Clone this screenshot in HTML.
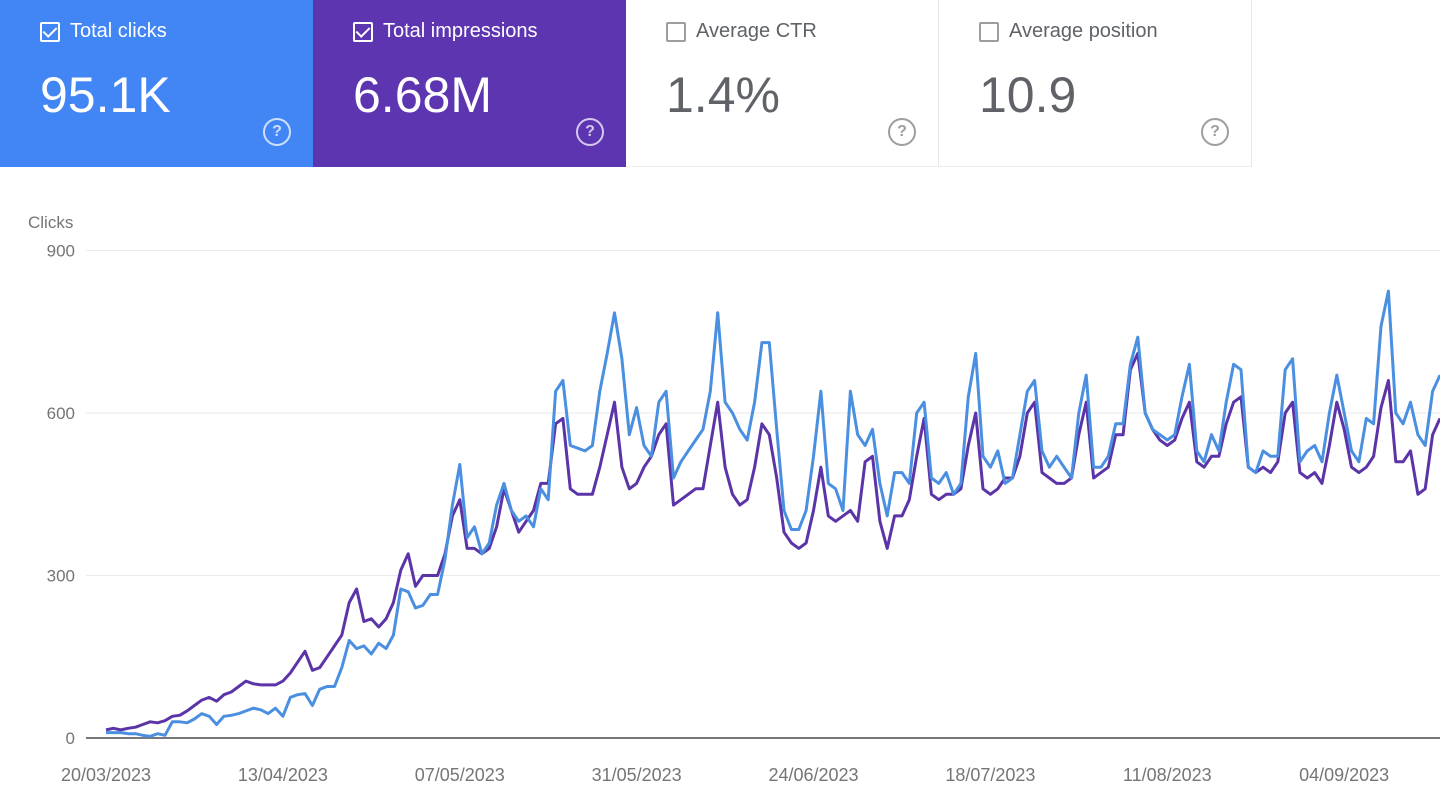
<!DOCTYPE html>
<html><head><meta charset="utf-8">
<style>
body{margin:0;width:1440px;height:810px;overflow:hidden;background:#fff;font-family:"Liberation Sans",sans-serif;}
.card{position:absolute;top:0;height:167px;width:313px;box-sizing:border-box;}
.card .lab{position:absolute;left:40px;top:20px;font-size:20px;display:flex;align-items:center;gap:10px;}
.cb{width:20px;height:20px;box-sizing:border-box;border:2px solid #9e9e9e;border-radius:2px;display:inline-block;position:relative;}
.card .val{position:absolute;left:40px;top:66px;font-size:50px;}
.help{position:absolute;right:22px;top:118px;width:24px;height:24px;border:2px solid;border-radius:50%;font-size:16px;text-align:center;line-height:24px;font-weight:bold;}
</style></head><body>
<div class="card" style="left:0;background:#4285f4;color:#fff">
 <div class="lab"><span class="cb" style="border-color:#fff"><span style="position:absolute;left:4px;top:0px;width:6px;height:11px;border:solid #fff;border-width:0 2px 2px 0;transform:rotate(45deg)"></span></span>Total clicks</div>
 <div class="val">95.1K</div><div class="help" style="border-color:#cfe0fc;color:#cfe0fc">?</div>
</div>
<div class="card" style="left:313px;background:#5e35b1;color:#fff">
 <div class="lab"><span class="cb" style="border-color:#fff"><span style="position:absolute;left:4px;top:0px;width:6px;height:11px;border:solid #fff;border-width:0 2px 2px 0;transform:rotate(45deg)"></span></span>Total impressions</div>
 <div class="val">6.68M</div><div class="help" style="border-color:#d5c8ee;color:#d5c8ee">?</div>
</div>
<div class="card" style="left:626px;background:#fff;color:#5f6368;border-right:1px solid #e8e8e8;border-bottom:1px solid #eee">
 <div class="lab"><span class="cb"></span>Average CTR</div>
 <div class="val">1.4%</div><div class="help" style="border-color:#9e9e9e;color:#9e9e9e">?</div>
</div>
<div class="card" style="left:939px;background:#fff;color:#5f6368;border-right:1px solid #e8e8e8;border-bottom:1px solid #eee">
 <div class="lab"><span class="cb"></span>Average position</div>
 <div class="val">10.9</div><div class="help" style="border-color:#9e9e9e;color:#9e9e9e">?</div>
</div>
<svg id="chart" width="1440" height="810" style="position:absolute;left:0;top:0"></svg>
<script>
const yTicks=[0,300,600,900];
const xLabels=["20/03/2023","13/04/2023","07/05/2023","31/05/2023","24/06/2023","18/07/2023","11/08/2023","04/09/2023"];
const clicks=[10,10,10,8,8,5,3,8,5,30,30,28,35,45,40,25,40,42,45,50,55,52,45,55,40,75,80,82,60,90,95,95,130,180,165,170,155,175,165,190,275,270,240,245,265,265,330,430,505,370,390,340,360,430,470,420,400,410,390,460,440,640,660,540,535,530,540,640,710,785,700,560,610,540,520,620,640,480,510,530,550,570,640,785,620,600,570,550,620,730,730,570,420,385,385,420,520,640,470,460,420,640,560,540,570,470,410,490,490,470,600,620,480,470,490,450,470,630,710,520,500,530,470,480,560,640,660,530,500,520,500,480,600,670,500,500,520,580,580,690,740,600,570,560,550,560,630,690,530,510,560,530,620,690,680,500,490,530,520,520,680,700,510,530,540,510,600,670,600,530,510,590,580,760,825,600,580,620,560,540,640,670];
const impressionsK=[1.5,1.8,1.5,1.8,2,2.5,3,2.8,3.2,4,4.2,5,6,7,7.5,6.8,8,8.5,9.5,10.5,10,9.8,9.8,9.8,10.5,12,14,16,12.5,13,15,17,19,25,27.5,21.5,22,20.5,22,25,31,34,28,30,30,30,34,41,44,35,35,34,35,39,46,42,38,40,42,47,47,58,59,46,45,45,45,50,56,62,50,46,47,50,52,56,58,43,44,45,46,46,54,62,50,45,43,44,50,58,56,48,38,36,35,36,42,50,41,40,41,42,40,51,52,40,35,41,41,44,52,59,45,44,45,45,46,54,60,46,45,46,48,48,52,60,62,49,48,47,47,48,56,62,48,49,50,56,56,68,71,60,57,55,54,55,59,62,51,50,52,52,58,62,63,50,49,50,49,51,60,62,49,48,49,47,54,62,57,50,49,50,52,61,66,51,51,53,45,46,56,59];
const svg=document.getElementById('chart');const NS='http://www.w3.org/2000/svg';
const X0=106,DX=7.37,Y0=738,PX=162.5/300;
const xs=i=>X0+i*DX, yc=v=>Y0-v*PX, yi=v=>Y0-v*10*PX;
function mk(t,a){const e=document.createElementNS(NS,t);for(const k in a)e.setAttribute(k,a[k]);svg.appendChild(e);return e;}
const ttl=mk('text',{x:28,y:228,'font-size':17,fill:'#757575'});ttl.textContent='Clicks';


yTicks.forEach(v=>{
 const l=mk('line',{x1:86,x2:1440,y1:yc(v),y2:yc(v),stroke:v===0?'#777':'#eaeaea','stroke-width':v===0?2:1});
 
 
 const t=mk('text',{x:75,y:yc(v)+6,'font-size':17,fill:'#757575','text-anchor':'end'});t.textContent=v;
 
 
});
xLabels.forEach((s,i)=>{
 const t=mk('text',{x:xs(i*24),y:781,'font-size':18,fill:'#757575','text-anchor':'middle'});t.textContent=s;
 
 
});
const pp=impressionsK.map((v,i)=>xs(i).toFixed(1)+','+yi(v).toFixed(1)).join(' ');
const lp=mk('polyline',{points:pp,fill:'none',stroke:'#5b34a8','stroke-width':3,'stroke-linejoin':'round'});


const cp=clicks.map((v,i)=>xs(i).toFixed(1)+','+yc(v).toFixed(1)).join(' ');
const lc=mk('polyline',{points:cp,fill:'none',stroke:'#4a8fe0','stroke-width':3,'stroke-linejoin':'round'});


</script>
</body></html>
